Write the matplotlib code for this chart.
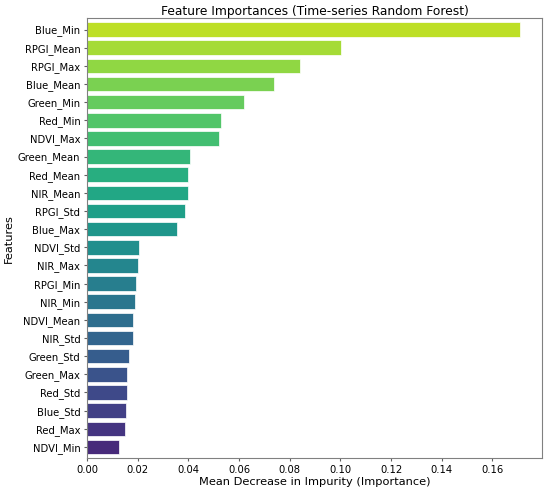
import numpy as np
import matplotlib.pyplot as plt
import matplotlib as mpl


features = ['Blue_Min', 'RPGI_Mean', 'RPGI_Max', 'Blue_Mean', 'Green_Min', 'Red_Min',
            'NDVI_Max', 'Green_Mean', 'Red_Mean', 'NIR_Mean', 'RPGI_Std', 'Blue_Max',
            'NDVI_Std', 'NIR_Max', 'RPGI_Min', 'NIR_Min', 'NDVI_Mean', 'NIR_Std',
            'Green_Std', 'Green_Max', 'Red_Std', 'Blue_Std', 'Red_Max', 'NDVI_Min']

importances = [0.1710, 0.1003, 0.0839, 0.0737, 0.0620, 0.0530,
               0.0520, 0.0408, 0.0399, 0.0397, 0.0388, 0.0355,
               0.0204, 0.0203, 0.0193, 0.0188, 0.0183, 0.0180,
               0.0167, 0.0160, 0.0159, 0.0154, 0.0151, 0.0127]


# colori viridis dal giallo-verde (alto) al viola (basso)
cmap = mpl.colormaps['viridis']
colors = cmap(np.linspace(0.9, 0.12, len(features)))

fig, ax = plt.subplots(figsize=(5.5, 4.94), dpi=100)

ypos = np.arange(len(features))
ax.barh(ypos, importances, height=0.8, color=colors, edgecolor='white', linewidth=0.5)
ax.set_yticks(ypos)
ax.set_yticklabels(features, fontsize=7.2)
ax.set_ylim(len(features) - 0.38, -0.62)
ax.set_xlim(0, max(importances) * 1.05)
ax.tick_params(axis='x', labelsize=7.2)
ax.tick_params(length=2.5, pad=2.2, color='#606060')

for s in ax.spines.values():
    s.set_color('#808080')

ax.set_title('Feature Importances (Time-series Random Forest)', fontsize=8.8, pad=2)
ax.set_xlabel('Mean Decrease in Impurity (Importance)', fontsize=8.2, labelpad=1.5)
ax.set_ylabel('Features', fontsize=8.2, labelpad=3)

fig.subplots_adjust(left=0.158, right=0.9855, top=0.963, bottom=0.0725)
fig.savefig('out.png', dpi=100)
